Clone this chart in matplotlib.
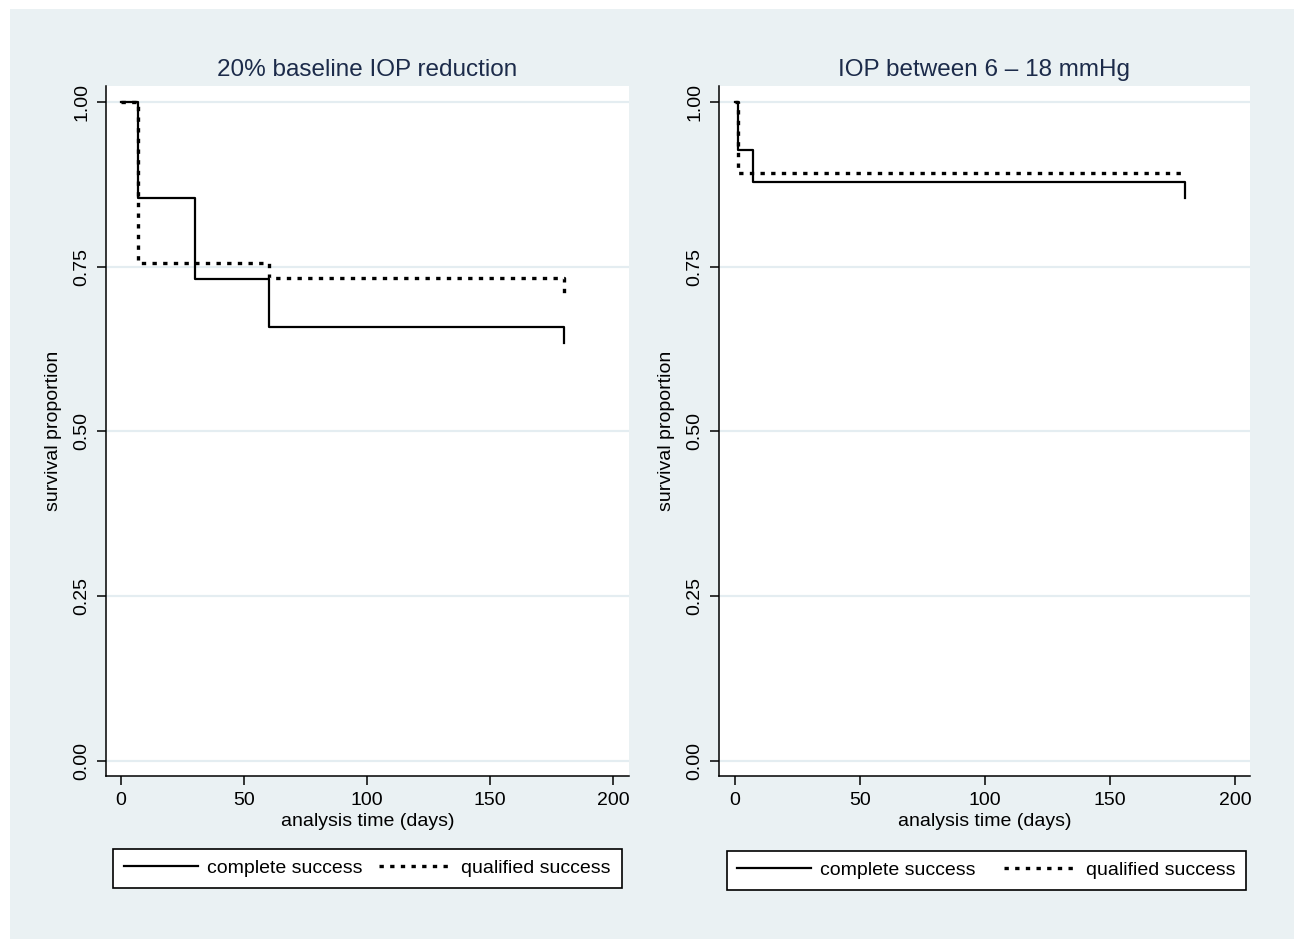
import numpy as np
import matplotlib.pyplot as plt
from matplotlib.patches import Rectangle

# Kaplan-Meier step data
left_title = "20% baseline IOP reduction"
left_t_complete = [0, 7, 30, 60, 180]
left_s_complete = [1.0, 0.854, 0.732, 0.659, 0.634]
left_t_qualified = [0, 7, 60, 180]
left_s_qualified = [1.0, 0.756, 0.733, 0.709]

right_title = "IOP between 6 \u2013 18 mmHg"
right_t_complete = [0, 1, 7, 180]
right_s_complete = [1.0, 0.927, 0.878, 0.854]
right_t_qualified = [0, 1, 180]
right_s_qualified = [1.0, 0.893, 0.893]

x_ticks = [0, 50, 100, 150, 200]
y_ticks = [0.0, 0.25, 0.5, 0.75, 1.0]
y_ticklabels = ["0.00", "0.25", "0.50", "0.75", "1.00"]
legend_labels = ["complete success", "qualified success"]

BG = "#eaf1f3"
GRID = "#e4edf1"
TITLE_C = "#1c2b4a"
W, H = 1294, 939

plt.rcParams['font.family'] = ['Liberation Sans', 'DejaVu Sans']

fig = plt.figure(figsize=(W / 100, H / 100), dpi=100)
fig.patch.set_facecolor("white")
# light background panel (white strip at top and left)
fig.patches.append(Rectangle((10 / W, 0), 1 - 10 / W, 1 - 9 / H,
                             transform=fig.transFigure, facecolor=BG,
                             edgecolor="none", zorder=-10))


def make_panel(rect, title, tc, sc, tq, sq, xlim, legend_center, colspace):
    ax = fig.add_axes(rect)
    ax.set_facecolor("white")
    for y in y_ticks:
        ax.axhline(y, color=GRID, lw=1.6, zorder=1)
    ax.step(tc, sc, where='post', color='black', lw=1.6, zorder=3,
            label=legend_labels[0])
    ax.step(tq, sq, where='post', color='black', lw=2.4,
            linestyle=(0, (1.3, 1.9)), zorder=3, label=legend_labels[1])
    ax.set_xlim(*xlim)
    ax.set_ylim(-0.0228, 1.0243)
    ax.set_xticks(x_ticks)
    ax.set_yticks(y_ticks)
    ax.set_yticklabels(y_ticklabels, rotation=90, va='center')
    for side in ['top', 'right']:
        ax.spines[side].set_visible(False)
    for side in ['left', 'bottom']:
        ax.spines[side].set_linewidth(1.1)
    ax.tick_params(direction='out', length=6.5, width=1.1, labelsize=14,
                   pad=5)
    ax.set_xlabel("analysis time (days)", fontsize=14, labelpad=3)
    ax.set_ylabel("survival proportion", fontsize=14, labelpad=8)
    ax.set_title(title, fontsize=17.5, color=TITLE_C, pad=7)
    leg = ax.legend(loc='center', bbox_to_anchor=legend_center,
                    bbox_transform=fig.transFigure, ncol=2, fontsize=14,
                    handlelength=3.8, handletextpad=0.45,
                    columnspacing=colspace, borderpad=0.55, fancybox=False,
                    framealpha=1, edgecolor='black')
    leg.get_frame().set_linewidth(1.2)
    return ax


top = 86
bottom = 776
make_panel([106 / W, 1 - bottom / H, 523 / W, (bottom - top) / H],
           left_title, left_t_complete, left_s_complete,
           left_t_qualified, left_s_qualified, (-6.1, 206.5),
           (367.5 / W, 1 - 868 / H), 0.85)
make_panel([719 / W, 1 - bottom / H, 531 / W, (bottom - top) / H],
           right_title, right_t_complete, right_s_complete,
           right_t_qualified, right_s_qualified, (-6.4, 206),
           (986.5 / W, 1 - 870 / H), 1.45)

fig.savefig("out.png", dpi=100, facecolor=fig.get_facecolor())
